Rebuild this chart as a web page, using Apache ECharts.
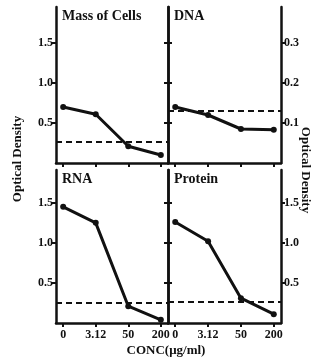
<!DOCTYPE html>
<html>
<head>
<meta charset="utf-8">
<script src="https://cdn.jsdelivr.net/npm/echarts@6/dist/echarts.min.js"></script>
<style>
  html, body { margin: 0; padding: 0; background: #fff; }
  #chart { width: 320px; height: 358px; }
</style>
</head>
<body>
<div id="chart"></div>
<script>
// concentrations (x categories)
var conc = ['0', '3.12', '50', '200'];

// optical density per panel
var massCells = [0.70, 0.61, 0.21, 0.10];
var dna = [0.14, 0.12, 0.085, 0.083];
var rna = [1.45, 1.25, 0.21, 0.04];
var protein = [1.26, 1.02, 0.31, 0.11];

// dashed control levels
var massCtrl = 0.26;
var dnaCtrl = 0.128;
var rnaCtrl = 0.25;
var proteinCtrl = 0.26;

// y tick values
var odTicks = [0.5, 1.0, 1.5];
var dnaTicks = [0.1, 0.2, 0.3];

var panelTitles = ['Mass of Cells', 'DNA', 'RNA', 'Protein'];

var FONT = '"Liberation Serif", "DejaVu Serif", serif';
var INK = '#111';

var chart = echarts.init(document.getElementById('chart'));

function pts(vals) {
  return vals.map(function (v, i) { return [i, v]; });
}

var grids = [
  { left: 56, top: 7, width: 112, height: 156 },
  { left: 168, top: 7, width: 113, height: 156 },
  { left: 56, top: 170, width: 112, height: 153 },
  { left: 168, top: 170, width: 113, height: 153 }
];

// per grid: y max, ticks, which side carries labels
var yCfg = [
  { max: 1.95, ticks: odTicks, labelSide: 'left' },
  { max: 0.39, ticks: dnaTicks, labelSide: 'right' },
  { max: 1.91, ticks: odTicks, labelSide: 'left' },
  { max: 1.91, ticks: odTicks, labelSide: 'right' }
];

var xAxes = [], yAxes = [], series = [];
var values = [massCells, dna, rna, protein];
var ctrls = [massCtrl, dnaCtrl, rnaCtrl, proteinCtrl];

grids.forEach(function (g, i) {
  xAxes.push({
    type: 'value',
    gridIndex: i,
    min: -0.22,
    max: 3.22,
    splitLine: { show: false },
    axisLine: { show: true, onZero: false, lineStyle: { color: INK, width: 2.5 } },
    axisTick: { show: true, customValues: [0, 1, 2, 3], length: 4, lineStyle: { color: INK, width: 2 } },
    axisLabel: {
      show: i >= 2,
      customValues: [0, 1, 2, 3],
      formatter: function (v) { return conc[Math.round(v)]; },
      color: INK,
      fontFamily: FONT,
      fontWeight: 'bold',
      fontSize: 12,
      margin: 6
    }
  });
  ['left', 'right'].forEach(function (side) {
    var c = yCfg[i];
    yAxes.push({
      type: 'value',
      gridIndex: i,
      position: side,
      min: 0,
      max: c.max,
      splitLine: { show: false },
      axisLine: { show: true, onZero: false, lineStyle: { color: INK, width: 2.5 } },
      axisTick: { show: true, customValues: c.ticks, length: 4, lineStyle: { color: INK, width: 2 } },
      axisLabel: {
        show: side === c.labelSide,
        customValues: c.ticks,
        formatter: function (v) { return v.toFixed(1); },
        color: INK,
        fontFamily: FONT,
        fontWeight: 'bold',
        fontSize: 12,
        margin: 3
      }
    });
  });
  series.push({
    type: 'line',
    xAxisIndex: i,
    yAxisIndex: i * 2,
    data: pts(values[i]),
    symbol: 'circle',
    symbolSize: 6,
    lineStyle: { color: INK, width: 3 },
    itemStyle: { color: INK },
    markLine: {
      silent: true,
      symbol: 'none',
      label: { show: false },
      lineStyle: { color: INK, type: [6, 4], width: 2 },
      data: [{ yAxis: ctrls[i] }]
    }
  });
});

var graphics = panelTitles.map(function (t, i) {
  return {
    type: 'text',
    left: grids[i].left + 6,
    top: grids[i].top + 2,
    style: { text: t, fill: INK, font: 'bold 14px ' + FONT }
  };
});
graphics.push({
  type: 'text', x: 18, y: 159, rotation: Math.PI / 2,
  style: { text: 'Optical Density', fill: INK, font: 'bold 13px ' + FONT, align: 'center', verticalAlign: 'middle' }
});
graphics.push({
  type: 'text', x: 305, y: 170, rotation: -Math.PI / 2,
  style: { text: 'Optical Density', fill: INK, font: 'bold 13px ' + FONT, align: 'center', verticalAlign: 'middle' }
});
graphics.push({
  type: 'text', x: 166, y: 351,
  style: { text: 'CONC(μg/ml)', fill: INK, font: 'bold 13px ' + FONT, align: 'center', verticalAlign: 'middle' }
});

var option = {
  animation: false,
  backgroundColor: '#fff',
  grid: grids,
  xAxis: xAxes,
  yAxis: yAxes,
  series: series,
  graphic: graphics
};

chart.setOption(option);
</script>
</body>
</html>
